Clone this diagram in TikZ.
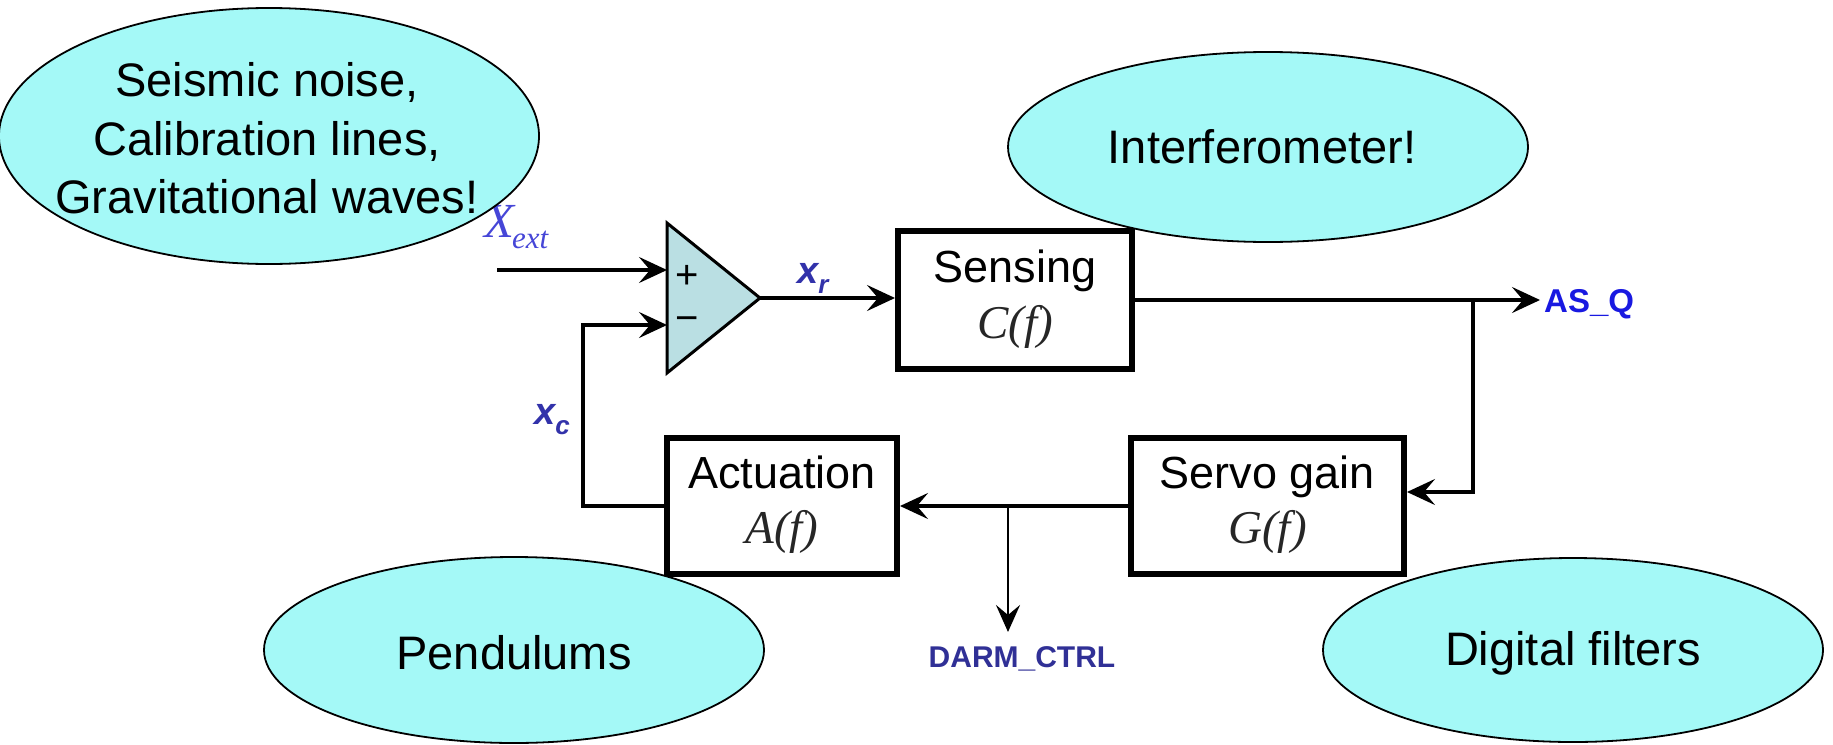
\documentclass[tikz,border=0pt]{standalone}
\usepackage{fontspec}
\setmainfont{Liberation Sans}
\newfontfamily\timesfont{Liberation Serif}
\usetikzlibrary{shapes.geometric,arrows.meta}

\definecolor{bubblefill}{RGB}{164,249,247}
\definecolor{ampfill}{RGB}{186,223,227}
\definecolor{extblue}{RGB}{70,70,215}
\definecolor{varblue}{RGB}{50,50,170}
\definecolor{outblue}{RGB}{25,25,225}
\definecolor{ctrlblue}{RGB}{48,48,150}

\begin{document}
\begin{tikzpicture}[x=1pt,y=-1pt,
  bubble/.style={ellipse, draw=black, line width=1.8pt, fill=bubblefill, inner sep=0pt},
  bubbletext/.style={align=center, inner sep=0pt, font=\fontsize{47}{58.5}\selectfont},
  blockbox/.style={draw=black, line width=6pt, fill=white, inner sep=0pt},
  blocktitle/.style={anchor=base, inner sep=0pt, font=\fontsize{45}{54}\selectfont},
  blockfunc/.style={anchor=base, inner sep=0pt, font=\fontsize{47}{54}\timesfont\itshape, text=black!85},
  wire/.style={line width=3.3pt},
  sig/.style={wire, -{Stealth[length=28pt,width=26pt,inset=11pt]}},
  thinsig/.style={line width=2.6pt, -{Stealth[length=27pt,width=24pt,inset=10pt]}},
  sumsign/.style={inner sep=0pt, font=\fontsize{40}{40}\selectfont},
  varlabel/.style={anchor=base west, inner sep=0pt, text=varblue, font=\fontsize{38}{38}\selectfont\bfseries\itshape},
  portlabel/.style={inner sep=0pt, font=\fontsize{30}{30}\selectfont\bfseries}
]
\useasboundingbox (0,0) rectangle (1833,744);

% summing amplifier
\coordinate (ampTop) at (667,223);
\coordinate (ampOut) at (760,298);
\coordinate (ampBot) at (667,373);
\coordinate (ampPlus) at (667,270);
\coordinate (ampMinus) at (667,325);
\draw[line width=3pt, fill=ampfill, line join=miter] (ampTop) -- (ampOut) -- (ampBot) -- cycle;
\node[sumsign] (plusSign) at (687,277) {+};
\node[sumsign] (minusSign) at (687,324) {−};

% blocks
\node[blockbox, minimum width=234pt, minimum height=138pt] (sense) at (1015,300) {};
\node[blocktitle] (senseT) at (1015,282) {Sensing};
\node[blockfunc] (senseF) at (1015,338) {C(f)};

\node[blockbox, minimum width=273pt, minimum height=136pt] (servo) at (1267.5,506) {};
\node[blocktitle] (servoT) at (1267.5,488) {Servo gain};
\node[blockfunc] (servoF) at (1267.5,543) {G(f)};

\node[blockbox, minimum width=230pt, minimum height=136pt] (act) at (782,506) {};
\node[blocktitle] (actT) at (782,488) {Actuation};
\node[blockfunc] (actF) at (782,543) {A(f)};

% signal paths
\coordinate (extIn) at (497,270);
\coordinate (fbCorner) at (583,325);
\coordinate (asTip) at (1540,300);
\coordinate (asTap) at (1473,300);
\coordinate (darmTap) at (1008,506);
\coordinate (darmTip) at (1008,632);

\draw[sig] (extIn) -- (ampPlus);
\draw[sig] (ampOut) -- (ampOut -| sense.west);
\draw[sig] (sense.east) -- (asTip);
\draw[sig] (asTap) |- ([yshift=14pt]servo.east);
\draw[sig] (servo.west) -- (act.east);
\draw[thinsig] (darmTap) -- (darmTip);
\draw[sig] (act.west) -| (fbCorner) -- (ampMinus);

% signal labels
\node[anchor=base west, inner sep=0pt, text=extblue, font=\fontsize{49}{49}\timesfont\itshape] (xext) at (484,237)
  {X\kern-2pt\raisebox{-11pt}{\fontsize{31}{31}\selectfont ext}};
\node[varlabel] (xr) at (797,283) {x\raisebox{-10pt}{\fontsize{26}{26}\selectfont r}};
\node[varlabel] (xc) at (534,424) {x\raisebox{-10pt}{\fontsize{26}{26}\selectfont c}};
\node[portlabel, anchor=base west, text=outblue] (asq) at (1544,312) {\fontsize{33}{33}\selectfont AS\_Q};
\node[portlabel, anchor=base, text=ctrlblue] (darm) at (1022,667) {DARM\_CTRL};

% callout bubbles
\node[bubble, minimum width=540pt, minimum height=256pt] (noise) at (269,136) {};
\node[bubbletext] (noiseT) at (267,138.5) {Seismic noise,\\Calibration lines,\\Gravitational waves!};
\node[bubble, minimum width=520pt, minimum height=190pt] (ifo) at (1268,147) {};
\node[bubbletext] (ifoT) at (1262,147) {Interferometer!};
\node[bubble, minimum width=500pt, minimum height=186pt] (pend) at (514,650) {};
\node[bubbletext] (pendT) at (514,653) {Pendulums};
\node[bubble, minimum width=500pt, minimum height=184pt] (filt) at (1573,650) {};
\node[bubbletext] (filtT) at (1573,653) {Digital filters};
\end{tikzpicture}
\end{document}
